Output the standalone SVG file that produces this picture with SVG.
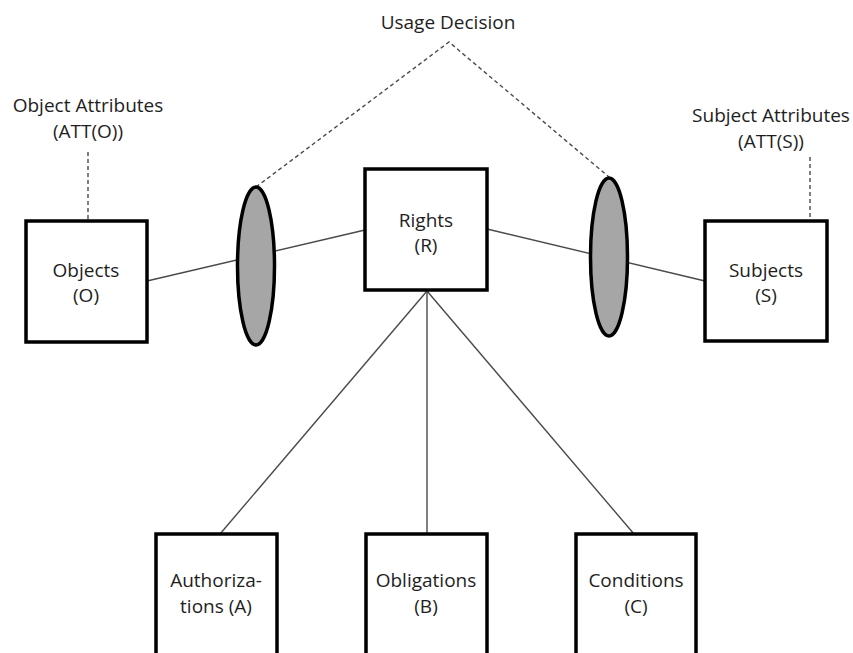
<svg xmlns="http://www.w3.org/2000/svg" width="853" height="653" viewBox="0 0 853 653">
<style>
  .box { fill: #ffffff; stroke: #000000; stroke-width: 3.5; }
  .lens { fill: #a6a6a6; stroke: #000000; stroke-width: 3.5; }
  .conn { stroke: #4a4a4a; stroke-width: 1.4; fill: none; }
  .dash { stroke: #4a4a4a; stroke-width: 1.4; fill: none; stroke-dasharray: 4 3; }
  text { font-family: "Open Sans", "Noto Sans", "Liberation Sans", sans-serif; font-size: 19px; fill: #1e1e1e; text-anchor: middle; }
</style>
<rect width="853" height="653" fill="#ffffff"/>
<g id="connectors">
  <line class="conn" x1="147" y1="281" x2="365" y2="230"/>
  <line class="conn" x1="487" y1="229" x2="705" y2="281"/>
  <line class="conn" x1="427" y1="291" x2="220" y2="534"/>
  <line class="conn" x1="427" y1="291" x2="427" y2="534"/>
  <line class="conn" x1="427" y1="291" x2="634" y2="534"/>
  <polyline class="dash" points="256,187 449,42 609,177"/>
  <line class="dash" x1="88" y1="152" x2="88" y2="221"/>
  <line class="dash" x1="810" y1="157" x2="810" y2="221"/>
</g>
<g id="usage-decision">
  <text x="448" y="29">Usage Decision</text>
</g>
<g id="object-attributes">
  <text x="88" y="112">Object Attributes</text>
  <text x="88" y="138">(ATT(O))</text>
</g>
<g id="subject-attributes">
  <text x="771" y="122">Subject Attributes</text>
  <text x="771" y="148">(ATT(S))</text>
</g>
<g id="left-lens">
  <ellipse class="lens" cx="256" cy="266" rx="18.5" ry="79"/>
</g>
<g id="right-lens">
  <ellipse class="lens" cx="609" cy="257" rx="18.5" ry="79"/>
</g>
<g id="objects">
  <rect class="box" x="26" y="221" width="121" height="121"/>
  <text x="86" y="277">Objects</text>
  <text x="86" y="302">(O)</text>
</g>
<g id="rights">
  <rect class="box" x="365" y="169" width="122" height="121"/>
  <text x="426" y="227">Rights</text>
  <text x="426" y="252">(R)</text>
</g>
<g id="subjects">
  <rect class="box" x="705" y="221" width="122" height="120"/>
  <text x="766" y="277">Subjects</text>
  <text x="766" y="302">(S)</text>
</g>
<g id="authorizations">
  <rect class="box" x="156" y="534" width="121" height="140"/>
  <text x="216" y="587">Authoriza-</text>
  <text x="216" y="613">tions (A)</text>
</g>
<g id="obligations">
  <rect class="box" x="366" y="534" width="121" height="140"/>
  <text x="426" y="587">Obligations</text>
  <text x="426" y="613">(B)</text>
</g>
<g id="conditions">
  <rect class="box" x="576" y="534" width="120" height="140"/>
  <text x="636" y="587">Conditions</text>
  <text x="636" y="613">(C)</text>
</g>
</svg>
